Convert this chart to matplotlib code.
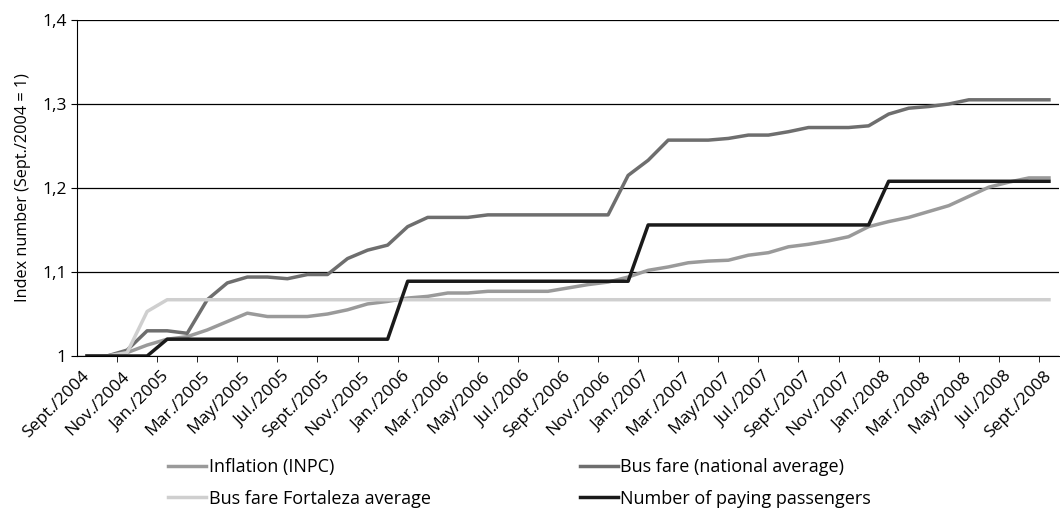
import numpy as np
import matplotlib.pyplot as plt
from matplotlib.ticker import FixedLocator, FuncFormatter

plt.rcParams["font.family"] = ["Open Sans", "DejaVu Sans"]

# monthly, Sept./2004 .. Sept./2008
tick_labels = [
    "Sept./2004", "Nov./2004", "Jan./2005", "Mar./2005", "May/2005", "Jul./2005",
    "Sept./2005", "Nov./2005", "Jan./2006", "Mar./2006", "May/2006", "Jul./2006",
    "Sept./2006", "Nov./2006", "Jan./2007", "Mar./2007", "May/2007", "Jul./2007",
    "Sept./2007", "Nov./2007", "Jan./2008", "Mar./2008", "May/2008", "Jul./2008",
    "Sept./2008",
]

inflation = [
    1.000, 1.000, 1.004, 1.013, 1.020, 1.023, 1.031, 1.041, 1.051, 1.047,
    1.047, 1.047, 1.050, 1.055, 1.062, 1.065, 1.069, 1.071, 1.075, 1.075,
    1.077, 1.077, 1.077, 1.077, 1.081, 1.085, 1.088, 1.094, 1.102, 1.106,
    1.111, 1.113, 1.114, 1.120, 1.123, 1.130, 1.133, 1.137, 1.142, 1.154,
    1.160, 1.165, 1.172, 1.179, 1.190, 1.201, 1.207, 1.212, 1.212,
]
bus_national = [
    1.000, 1.000, 1.007, 1.030, 1.030, 1.027, 1.067, 1.087, 1.094, 1.094,
    1.092, 1.097, 1.097, 1.116, 1.126, 1.132, 1.154, 1.165, 1.165, 1.165,
    1.168, 1.168, 1.168, 1.168, 1.168, 1.168, 1.168, 1.215, 1.233, 1.257,
    1.257, 1.257, 1.259, 1.263, 1.263, 1.267, 1.272, 1.272, 1.272, 1.274,
    1.288, 1.295, 1.297, 1.300, 1.305, 1.305, 1.305, 1.305, 1.305,
]
bus_fortaleza = [1.000, 1.000, 1.004, 1.053] + [1.067] * 45
passengers = [1.000] * 4 + [1.020] * 12 + [1.089] * 12 + [1.156] * 12 + [1.208] * 9

x = np.arange(len(inflation))

fig = plt.figure(figsize=(10.6, 5.09), dpi=100)
ax = fig.add_axes([77 / 1060, 1 - 356 / 509, 982 / 1060, 336 / 509])

lw = 2.5
l_inf, = ax.plot(x, inflation, color="#9a9a9a", lw=lw, label="Inflation (INPC)")
l_nat, = ax.plot(x, bus_national, color="#6e6e6e", lw=lw, label="Bus fare (national average)")
l_for, = ax.plot(x, bus_fortaleza, color="#cfcfcf", lw=lw, label="Bus fare Fortaleza average")
l_pas, = ax.plot(x, passengers, color="#1a1a1a", lw=lw, label="Number of paying passengers")

ax.set_xlim(-0.5, len(x) - 0.5)
ax.set_ylim(1.0, 1.4)
ax.set_yticks([1.0, 1.1, 1.2, 1.3, 1.4])
ax.yaxis.set_major_formatter(
    FuncFormatter(lambda v, p: "1" if abs(v - 1) < 1e-9 else f"{v:.1f}".replace(".", ","))
)
ax.grid(axis="y", color="black", lw=0.9)
ax.set_axisbelow(True)

ax.set_xticks(x[::2])
ax.set_xticklabels(tick_labels, rotation=45, ha="right", va="center",
                   rotation_mode="anchor")
ax.xaxis.set_minor_locator(FixedLocator(np.arange(-0.5, len(x), 2) + 2))
ax.tick_params(axis="x", which="major", length=0, pad=13, labelsize=12.5)
ax.tick_params(axis="x", which="minor", length=4, color="black")
ax.tick_params(axis="y", length=4, labelsize=12.5)

for s in ["top", "right"]:
    ax.spines[s].set_visible(False)
ax.spines["left"].set_color("black")
ax.spines["bottom"].set_color("black")

ax.set_ylabel("Index number (Sept./2004 = 1)", fontsize=11.7, labelpad=8)

# column-first fill: left column Inflation / Fortaleza, right column national / passengers
fig.legend(
    handles=[l_inf, l_for, l_nat, l_pas],
    loc="upper left", bbox_to_anchor=(152 / 1060, 1 - 442 / 509), ncol=2, frameon=False,
    fontsize=13, handlelength=2.1, handletextpad=0.15, columnspacing=8.25,
    labelspacing=0.75,
)

fig.savefig("out.png", dpi=100)
